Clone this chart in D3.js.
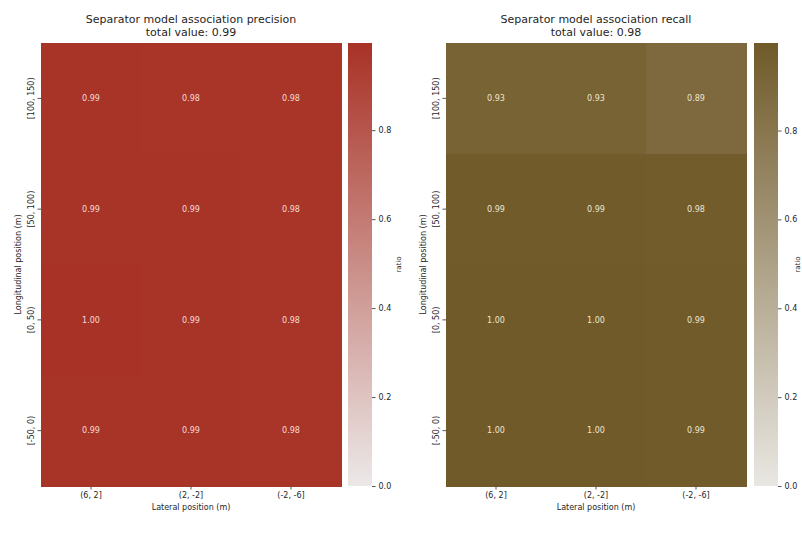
<!DOCTYPE html>
<html>
<head>
<meta charset="utf-8">
<script src="https://cdn.jsdelivr.net/npm/d3@7"></script>
<style>
    body { margin: 0; background: #fff; }
    text { font-family: 'DejaVu Sans', sans-serif; fill: #262626; }
</style>
</head>
<body>
<div id="chart-container"></div>
<script>
const WIDTH = 802;
const HEIGHT = 536;
const TOP = 43;
const BOTTOM = 486;
const MAP_WIDTH = 300;
const CBAR_WIDTH = 24;
const TICK_SIZE = 3.5;

const lateralBins = ['(6, 2]', '(2, -2]', '(-2, -6]'];
const longitudinalBins = ['[100, 150)', '[50, 100)', '[0, 50)', '[-50, 0)'];
const colorbarTicks = [0, 0.2, 0.4, 0.6, 0.8];

// rows follow longitudinalBins, columns follow lateralBins
const precisionValues = [
    [0.99, 0.98, 0.98],
    [0.99, 0.99, 0.98],
    [0.996, 0.99, 0.98],
    [0.99, 0.99, 0.98],
];
const recallValues = [
    [0.93, 0.93, 0.89],
    [0.99, 0.99, 0.98],
    [0.997, 0.996, 0.99],
    [0.996, 0.996, 0.99],
];

const panels = [
    {
        id: 'precision',
        title: 'Separator model association precision',
        total: 0.99,
        values: precisionValues,
        left: 41,
        cbarLeft: 348,
        colors: ['#ece8e8', '#a83226'],
        textColor: '#f4dcd7',
        ratioX: 401,
    },
    {
        id: 'recall',
        title: 'Separator model association recall',
        total: 0.98,
        values: recallValues,
        left: 446,
        cbarLeft: 754,
        colors: ['#e9e7e3', '#705a29'],
        textColor: '#efe5cd',
        ratioX: 800,
    },
];

const svg = d3
    .select('#chart-container')
    .append('svg')
    .attr('width', WIDTH)
    .attr('height', HEIGHT)
    .attr('viewBox', [0, 0, WIDTH, HEIGHT]);

const defs = svg.append('defs');

panels.forEach((panel) => {
    const cells = [];
    panel.values.forEach((row, i) =>
        row.forEach((v, j) => cells.push({ row: longitudinalBins[i], col: lateralBins[j], value: v })),
    );
    const vmax = d3.max(cells, (d) => d.value);

    const x = d3.scaleBand().domain(lateralBins).range([panel.left, panel.left + MAP_WIDTH]);
    const y = d3.scaleBand().domain(longitudinalBins).range([TOP, BOTTOM]);
    const color = d3.scaleLinear().domain([0, vmax]).range(panel.colors).interpolate(d3.interpolateRgb);

    const g = svg.append('g').attr('class', `panel-${panel.id}`);

    g.selectAll('rect.cell')
        .data(cells)
        .join('rect')
        .attr('class', 'cell')
        .attr('x', (d) => x(d.col))
        .attr('y', (d) => y(d.row))
        .attr('width', x.bandwidth() + 1)
        .attr('height', y.bandwidth() + 1)
        .attr('shape-rendering', 'crispEdges')
        .attr('fill', (d) => color(d.value));

    g.selectAll('text.annot')
        .data(cells)
        .join('text')
        .attr('class', 'annot')
        .attr('x', (d) => x(d.col) + x.bandwidth() / 2)
        .attr('y', (d) => y(d.row) + y.bandwidth() / 2)
        .attr('dy', '0.35em')
        .attr('text-anchor', 'middle')
        .style('font-size', '8px')
        .style('fill', panel.textColor)
        .text((d) => d3.format('.2f')(d.value));

    // axes
    const xAxis = g
        .append('g')
        .attr('transform', `translate(0,${BOTTOM})`)
        .call(d3.axisBottom(x).tickSize(TICK_SIZE).tickPadding(3));
    xAxis.select('.domain').remove();
    xAxis.selectAll('line').attr('stroke', '#555');
    xAxis.selectAll('text').style('font-size', '8px').style('fill', '#262626').style('font-family', 'DejaVu Sans');

    const yAxis = g
        .append('g')
        .attr('transform', `translate(${panel.left},0)`)
        .call(d3.axisLeft(y).tickSize(TICK_SIZE));
    yAxis.select('.domain').remove();
    yAxis.selectAll('line').attr('stroke', '#555');
    yAxis
        .selectAll('text')
        .attr('x', null)
        .attr('dy', null)
        .attr('transform', `translate(${-TICK_SIZE - 4},0) rotate(-90)`)
        .attr('text-anchor', 'middle')
        .style('font-size', '8px')
        .style('fill', '#262626')
        .style('font-family', 'DejaVu Sans');

    g.append('text')
        .attr('transform', `translate(${panel.left - 20},${(TOP + BOTTOM) / 2}) rotate(-90)`)
        .attr('text-anchor', 'middle')
        .style('font-size', '8px')
        .text('Longitudinal position (m)');

    g.append('text')
        .attr('x', panel.left + MAP_WIDTH / 2)
        .attr('y', BOTTOM + 24)
        .attr('text-anchor', 'middle')
        .style('font-size', '8px')
        .text('Lateral position (m)');

    g.append('text')
        .attr('x', panel.left + MAP_WIDTH / 2)
        .attr('y', TOP - 20)
        .attr('text-anchor', 'middle')
        .style('font-size', '11px')
        .text(panel.title);
    g.append('text')
        .attr('x', panel.left + MAP_WIDTH / 2)
        .attr('y', TOP - 7)
        .attr('text-anchor', 'middle')
        .style('font-size', '11px')
        .text(`total value: ${d3.format('.2f')(panel.total)}`);

    // colorbar
    const gradId = `grad-${panel.id}`;
    const cbScale = d3.scaleLinear().domain([0, vmax]).range([BOTTOM, TOP]);
    const grad = defs
        .append('linearGradient')
        .attr('id', gradId)
        .attr('x1', 0)
        .attr('y1', 1)
        .attr('x2', 0)
        .attr('y2', 0);
    grad.selectAll('stop')
        .data(d3.range(0, 1.001, 0.1))
        .join('stop')
        .attr('offset', (t) => t)
        .attr('stop-color', (t) => color(t * vmax));

    g.append('rect')
        .attr('x', panel.cbarLeft)
        .attr('y', TOP)
        .attr('width', CBAR_WIDTH)
        .attr('height', BOTTOM - TOP)
        .attr('fill', `url(#${gradId})`);

    const cbAxis = g
        .append('g')
        .attr('transform', `translate(${panel.cbarLeft + CBAR_WIDTH},0)`)
        .call(d3.axisRight(cbScale).tickValues(colorbarTicks).tickFormat(d3.format('.1f')).tickSize(TICK_SIZE));
    cbAxis.select('.domain').remove();
    cbAxis.selectAll('line').attr('stroke', '#555');
    cbAxis.selectAll('text').style('font-size', '8px').style('fill', '#262626').style('font-family', 'DejaVu Sans');

    g.append('text')
        .attr('transform', `translate(${panel.ratioX},${(TOP + BOTTOM) / 2}) rotate(-90)`)
        .attr('text-anchor', 'middle')
        .style('font-size', '7px')
        .text('ratio');
});
</script>
</body>
</html>
